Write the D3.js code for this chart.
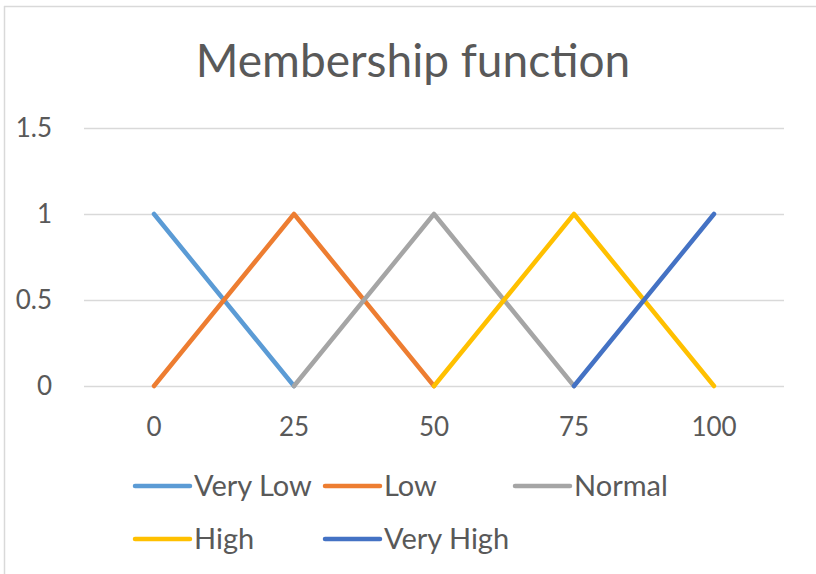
<!DOCTYPE html>
<html><head><meta charset="utf-8">
<script src="https://cdn.jsdelivr.net/npm/d3@7"></script>
<style>body{margin:0;background:#fff}svg{display:block}text{font-family:Lato,"Liberation Sans",sans-serif;fill:#595959}</style>
</head><body><svg id="c" width="816" height="574"></svg>
<script>
const categories = ["0","25","50","75","100"];
const seriesNames = ["Very Low","Low","Normal","High","Very High"];
const veryLow = [1,0,null,null,null];
const low = [0,1,0,null,null];
const normal = [null,0,1,0,null];
const high = [null,null,0,1,0];
const veryHigh = [null,null,null,0,1];
const colors = ["#5b9bd5","#ed7d31","#a5a5a5","#ffc000","#4472c4"];
const yTicks = [0,0.5,1,1.5];
const title = "Membership function";

const svg = d3.select("#c");
svg.append("line").attr("x1",4.5).attr("x2",4.5).attr("y1",6).attr("y2",574).attr("stroke","#d9d9d9").attr("stroke-width",1.5);
svg.append("line").attr("x1",4).attr("x2",816).attr("y1",6.5).attr("y2",6.5).attr("stroke","#d9d9d9").attr("stroke-width",1.5);

const x = d3.scaleBand().domain(categories).range([84,784]);
const y = d3.scaleLinear().domain([0,1.5]).range([386,128]);

svg.append("text").attr("x",413).attr("y",77).attr("text-anchor","middle").style("font-size","46px").text(title);

const gy = svg.append("g").attr("transform","translate(84,0)")
  .call(d3.axisLeft(y).tickValues(yTicks).tickSize(-700).tickPadding(32).tickFormat(d=>String(d)));
gy.select(".domain").remove();
gy.selectAll(".tick line").attr("stroke","#d9d9d9").attr("stroke-width",1.5);
gy.selectAll(".tick text").style("font-size","26px").attr("fill","#595959");

const gx = svg.append("g").attr("transform","translate(0,386)")
  .call(d3.axisBottom(x).tickSize(0).tickPadding(32));
gx.select(".domain").remove();
gx.selectAll(".tick text").style("font-size","26px").attr("fill","#595959");

const all = [veryLow,low,normal,high,veryHigh];
const line = d3.line().defined(d=>d.v!==null).x(d=>x(d.c)+x.bandwidth()/2).y(d=>y(d.v));
all.forEach((s,i)=>{
  svg.append("path").datum(s.map((v,j)=>({c:categories[j],v})))
    .attr("d",line).attr("fill","none").attr("stroke",colors[i]).attr("stroke-width",4.5)
    .attr("stroke-linejoin","round").attr("stroke-linecap","round");
});

const legPos = [[135,486],[325,486],[515,486],[135,539],[325,539]];
seriesNames.forEach((n,i)=>{
  const [lx,ly] = legPos[i];
  svg.append("line").attr("x1",lx).attr("x2",lx+55).attr("y1",ly).attr("y2",ly)
    .attr("stroke",colors[i]).attr("stroke-width",4.5).attr("stroke-linecap","round");
  svg.append("text").attr("x",lx+59).attr("y",ly).attr("dy","0.36em").style("font-size","29px").text(n);
});
</script></body></html>
